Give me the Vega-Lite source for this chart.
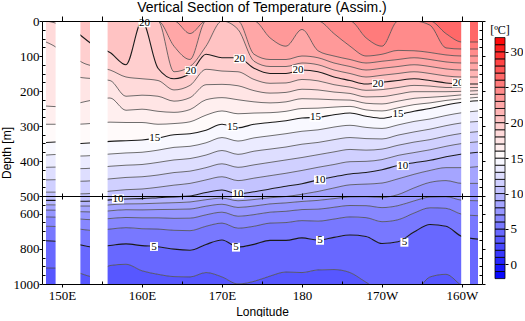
{
"$schema":"https://vega.github.io/schema/vega-lite/v6.json",
"background":"white",
"padding":{"left":0,"top":1,"right":0,"bottom":0},
"config":{"view":{"stroke":null},"legend":{"disable":true},"font":"Liberation Sans"},
"spacing":4,
"datasets":{
"iso":[
{"lon":148,"d4":909,"d5":754,"d6":672,"d7":619,"d8":580,"d9":550,"d10":525,"d11":489,"d12":454,"d13":418,"d14":383,"d15":347,"d16":295,"d17":243,"d18":60,"d19":0,"d20":0,"d21":0,"d22":0,"d23":0,"d24":0,"d25":0,"d26":0},
{"lon":150,"d4":910,"d5":760,"d6":675,"d7":621,"d8":581,"d9":551,"d10":525,"d11":489,"d12":453,"d13":417,"d14":381,"d15":345,"d16":295,"d17":245,"d18":90,"d19":15,"d20":0,"d21":0,"d22":0,"d23":0,"d24":0,"d25":0,"d26":0},
{"lon":152,"d4":935,"d5":775,"d6":687,"d7":630,"d8":589,"d9":557,"d10":530,"d11":494,"d12":458,"d13":422,"d14":386,"d15":350,"d16":295,"d17":235,"d18":160,"d19":110,"d20":35,"d21":0,"d22":0,"d23":0,"d24":0,"d25":0,"d26":0},
{"lon":154,"d4":960,"d5":790,"d6":696,"d7":635,"d8":591,"d9":557,"d10":528,"d11":492,"d12":456,"d13":420,"d14":384,"d15":348,"d16":292,"d17":225,"d18":165,"d19":130,"d20":70,"d21":0,"d22":0,"d23":0,"d24":0,"d25":0,"d26":0},
{"lon":156,"d4":895,"d5":781,"d6":688,"d7":628,"d8":584,"d9":550,"d10":522,"d11":486,"d12":451,"d13":415,"d14":380,"d15":344,"d16":289,"d17":220,"d18":170,"d19":140,"d20":90,"d21":0,"d22":0,"d23":0,"d24":0,"d25":0,"d26":0},
{"lon":158,"d4":888,"d5":772,"d6":680,"d7":622,"d8":578,"d9":545,"d10":517,"d11":482,"d12":447,"d13":412,"d14":377,"d15":342,"d16":290,"d17":255,"d18":215,"d19":160,"d20":125,"d21":0,"d22":0,"d23":0,"d24":0,"d25":0,"d26":0},
{"lon":160,"d4":925,"d5":782,"d6":686,"d7":624,"d8":579,"d9":544,"d10":515,"d11":480,"d12":445,"d13":410,"d14":375,"d15":340,"d16":290,"d17":252,"d18":212,"d19":165,"d20":0,"d21":0,"d22":0,"d23":0,"d24":0,"d25":0,"d26":0},
{"lon":162,"d4":945,"d5":788,"d6":688,"d7":624,"d8":577,"d9":541,"d10":510,"d11":475,"d12":440,"d13":404,"d14":369,"d15":334,"d16":295,"d17":258,"d18":215,"d19":170,"d20":135,"d21":0,"d22":0,"d23":0,"d24":0,"d25":0,"d26":0},
{"lon":164,"d4":958,"d5":802,"d6":695,"d7":627,"d8":576,"d9":538,"d10":505,"d11":469,"d12":433,"d13":397,"d14":361,"d15":325,"d16":293,"d17":261,"d18":229,"d19":197,"d20":165,"d21":145,"d22":72,"d23":0,"d24":0,"d25":0,"d26":0},
{"lon":166,"d4":960,"d5":808,"d6":697,"d7":626,"d8":574,"d9":534,"d10":500,"d11":464,"d12":429,"d13":393,"d14":358,"d15":322,"d16":288,"d17":253,"d18":219,"d19":184,"d20":150,"d21":130,"d22":110,"d23":36,"d24":0,"d25":0,"d26":0},
{"lon":168,"d4":935,"d5":775,"d6":672,"d7":607,"d8":558,"d9":521,"d10":490,"d11":454,"d12":419,"d13":383,"d14":348,"d15":312,"d16":269,"d17":225,"d18":182,"d19":138,"d20":95,"d21":72,"d22":0,"d23":0,"d24":0,"d25":0,"d26":0},
{"lon":170,"d4":960,"d5":750,"d6":654,"d7":592,"d8":547,"d9":512,"d10":483,"d11":445,"d12":408,"d13":370,"d14":333,"d15":295,"d16":257,"d17":219,"d18":181,"d19":143,"d20":105,"d21":0,"d22":0,"d23":0,"d24":0,"d25":0,"d26":0},
{"lon":172,"d4":1000,"d5":790,"d6":683,"d7":615,"d8":565,"d9":527,"d10":494,"d11":456,"d12":418,"d13":381,"d14":343,"d15":305,"d16":265,"d17":225,"d18":185,"d19":145,"d20":105,"d21":24,"d22":0,"d23":0,"d24":0,"d25":0,"d26":0},
{"lon":174,"d4":985,"d5":775,"d6":672,"d7":606,"d8":557,"d9":520,"d10":488,"d11":449,"d12":411,"d13":372,"d14":334,"d15":295,"d16":263,"d17":231,"d18":199,"d19":167,"d20":135,"d21":115,"d22":95,"d23":0,"d24":0,"d25":0,"d26":0},
{"lon":176,"d4":955,"d5":752,"d6":654,"d7":592,"d8":545,"d9":510,"d10":480,"d11":442,"d12":404,"d13":366,"d14":328,"d15":290,"d16":262,"d17":234,"d18":206,"d19":178,"d20":150,"d21":130,"d22":110,"d23":48,"d24":0,"d25":0,"d26":0},
{"lon":178,"d4":932,"d5":752,"d6":651,"d7":587,"d8":539,"d9":503,"d10":472,"d11":435,"d12":397,"d13":360,"d14":322,"d15":285,"d16":258,"d17":231,"d18":204,"d19":177,"d20":150,"d21":130,"d22":110,"d23":72,"d24":0,"d25":0,"d26":0},
{"lon":180,"d4":935,"d5":738,"d6":640,"d7":577,"d8":531,"d9":495,"d10":465,"d11":427,"d12":390,"d13":352,"d14":315,"d15":277,"d16":250,"d17":222,"d18":195,"d19":167,"d20":140,"d21":120,"d22":100,"d23":24,"d24":0,"d25":0,"d26":0},
{"lon":182,"d4":920,"d5":750,"d6":643,"d7":575,"d8":525,"d9":487,"d10":454,"d11":418,"d12":382,"d13":347,"d14":311,"d15":275,"d16":249,"d17":223,"d18":197,"d19":171,"d20":145,"d21":125,"d22":105,"d23":85,"d24":0,"d25":0,"d26":0},
{"lon":184,"d4":918,"d5":735,"d6":631,"d7":564,"d8":515,"d9":477,"d10":445,"d11":410,"d12":374,"d13":339,"d14":303,"d15":268,"d16":246,"d17":225,"d18":203,"d19":182,"d20":160,"d21":140,"d22":120,"d23":100,"d24":36,"d25":0,"d26":0},
{"lon":186,"d4":935,"d5":722,"d6":619,"d7":554,"d8":505,"d9":468,"d10":437,"d11":402,"d12":367,"d13":333,"d14":298,"d15":263,"d16":244,"d17":226,"d18":207,"d19":189,"d20":170,"d21":150,"d22":130,"d23":110,"d24":72,"d25":0,"d26":0},
{"lon":188,"d4":990,"d5":730,"d6":623,"d7":555,"d8":504,"d9":466,"d10":433,"d11":401,"d12":369,"d13":336,"d14":304,"d15":272,"d16":254,"d17":235,"d18":217,"d19":198,"d20":180,"d21":160,"d22":140,"d23":120,"d24":100,"d25":48,"d26":0},
{"lon":190,"d4":1040,"d5":770,"d6":646,"d7":566,"d8":508,"d9":463,"d10":425,"d11":396,"d12":366,"d13":337,"d14":307,"d15":278,"d16":257,"d17":237,"d18":216,"d19":196,"d20":175,"d21":155,"d22":135,"d23":115,"d24":95,"d25":72,"d26":0},
{"lon":192,"d4":1040,"d5":760,"d6":635,"d7":555,"d8":496,"d9":451,"d10":413,"d11":384,"d12":355,"d13":326,"d14":297,"d15":268,"d16":248,"d17":229,"d18":209,"d19":190,"d20":170,"d21":150,"d22":130,"d23":110,"d24":84,"d25":0,"d26":0},
{"lon":194,"d4":1040,"d5":705,"d6":597,"d7":528,"d8":477,"d9":438,"d10":405,"d11":376,"d12":346,"d13":317,"d14":287,"d15":258,"d16":239,"d17":221,"d18":202,"d19":184,"d20":165,"d21":145,"d22":125,"d23":105,"d24":85,"d25":0,"d26":0},
{"lon":196,"d4":960,"d5":662,"d6":567,"d7":506,"d8":461,"d9":427,"d10":398,"d11":368,"d12":339,"d13":309,"d14":280,"d15":250,"d16":234,"d17":218,"d18":202,"d19":186,"d20":170,"d21":150,"d22":130,"d23":110,"d24":90,"d25":12,"d26":0},
{"lon":198,"d4":945,"d5":672,"d6":570,"d7":504,"d8":456,"d9":419,"d10":388,"d11":358,"d12":329,"d13":299,"d14":270,"d15":240,"d16":227,"d17":215,"d18":202,"d19":190,"d20":177,"d21":157,"d22":137,"d23":117,"d24":97,"d25":77,"d26":36},
{"lon":200,"d4":1010,"d5":730,"d6":604,"d7":524,"d8":464,"d9":419,"d10":380,"d11":350,"d12":321,"d13":291,"d14":262,"d15":232,"d16":222,"d17":211,"d18":201,"d19":190,"d20":180,"d21":160,"d22":140,"d23":120,"d24":100,"d25":80,"d26":60},
{"lon":202,"d4":1040,"d5":745,"d6":612,"d7":527,"d8":464,"d9":416,"d10":375,"d11":345,"d12":316,"d13":287,"d14":257,"d15":228,"d16":218,"d17":209,"d18":199,"d19":190,"d20":180,"d21":160,"d22":140,"d23":120,"d24":100,"d25":80,"d26":60}
],
"gaps":[{"a":147.5,"b":148},{"a":149.2,"b":152.3},{"a":153.5,"b":155.7},{"a":199.9,"b":201.0},{"a":202.0,"b":202.5}],
"labels":[
{"lon":160.3,"d":5,"t":"20"},{"lon":166.1,"d":142,"t":"20"},{"lon":172.2,"d":108,"t":"20"},{"lon":179.5,"d":139,"t":"20"},{"lon":189.5,"d":180,"t":"20"},{"lon":199.5,"d":177,"t":"20"},
{"lon":161.6,"d":335,"t":"15"},{"lon":171.3,"d":302,"t":"15"},{"lon":181.7,"d":275,"t":"15"},{"lon":192.0,"d":267,"t":"15"},
{"lon":157.0,"d":516,"t":"10"},{"lon":172.0,"d":494,"t":"10"},{"lon":182.25,"d":454,"t":"10"},{"lon":192.6,"d":413,"t":"10"},
{"lon":161.5,"d":787,"t":"5"},{"lon":171.75,"d":791,"t":"5"},{"lon":182.25,"d":752,"t":"5"},{"lon":192.8,"d":763,"t":"5"}
],
"cbar":[
{"lo":-2,"hi":-1,"c":-1.5},{"lo":-1,"hi":0,"c":-0.5},{"lo":0,"hi":1,"c":0.5},{"lo":1,"hi":2,"c":1.5},{"lo":2,"hi":3,"c":2.5},{"lo":3,"hi":4,"c":3.5},{"lo":4,"hi":5,"c":4.5},{"lo":5,"hi":6,"c":5.5},{"lo":6,"hi":7,"c":6.5},{"lo":7,"hi":8,"c":7.5},{"lo":8,"hi":9,"c":8.5},{"lo":9,"hi":10,"c":9.5},{"lo":10,"hi":11,"c":10.5},{"lo":11,"hi":12,"c":11.5},{"lo":12,"hi":13,"c":12.5},{"lo":13,"hi":14,"c":13.5},{"lo":14,"hi":15,"c":14.5},{"lo":15,"hi":16,"c":15.5},{"lo":16,"hi":17,"c":16.5},{"lo":17,"hi":18,"c":17.5},{"lo":18,"hi":19,"c":18.5},{"lo":19,"hi":20,"c":19.5},{"lo":20,"hi":21,"c":20.5},{"lo":21,"hi":22,"c":21.5},{"lo":22,"hi":23,"c":22.5},{"lo":23,"hi":24,"c":23.5},{"lo":24,"hi":25,"c":24.5},{"lo":25,"hi":26,"c":25.5},{"lo":26,"hi":27,"c":26.5},{"lo":27,"hi":28,"c":27.5},{"lo":28,"hi":29,"c":28.5},{"lo":29,"hi":30,"c":29.5},{"lo":30,"hi":31,"c":30.5},{"lo":31,"hi":32,"c":31.5}
]
},
"hconcat":[
{
"width":440,"height":263,
"title":{"text":"Vertical Section of Temperature (Assim.)","font":"Liberation Sans","fontSize":14,"fontWeight":"normal","color":"black","offset":0,"anchor":"middle"},
"data":{"name":"iso"},
"resolve":{"axis":{"x":"independent","y":"independent"}},
"layer":[
{"mark":{"type":"area","interpolate":"monotone","clip":true},"encoding":{
 "x":{"field":"lon","type":"quantitative","scale":{"domain":[147.5,202.5],"nice":false,"zero":false},"axis":{"orient":"bottom","values":[150,160,170,180,190,200],"labelExpr":"datum.value < 180 ? datum.value + 'E' : (datum.value == 180 ? '180' : (360 - datum.value) + 'W')","title":"Longitude","grid":false,"domain":true,"domainColor":"black","tickSize":3,"tickColor":"black","labelFont":"Liberation Serif","labelFontSize":13,"labelColor":"black","labelPadding":2,"labelFlush":false,"labelOverlap":false,"titleFont":"Liberation Sans","titleFontSize":12,"titleFontWeight":"normal","titleColor":"black","titlePadding":4,"zindex":2}},
 "y":{"field":"d4","type":"quantitative","stack":null,"scale":{"domain":[0,500,1000],"range":[0,175,263],"nice":false,"zero":false},"axis":{"orient":"left","values":[0,100,200,300,400,500,600,800,1000],"format":"d","title":"Depth [m]","grid":false,"domain":true,"domainColor":"black","tickSize":3,"tickColor":"black","labelFont":"Liberation Serif","labelFontSize":13,"labelColor":"black","labelPadding":0,"labelFlush":false,"labelOverlap":false,"titleFont":"Liberation Sans","titleFontSize":12,"titleFontWeight":"normal","titleColor":"black","titlePadding":0,"zindex":2}},
 "y2":{"datum":1000},
 "color":{"datum":3.5,"type":"quantitative","scale":{"domain":[-2,0,5,10,15,20,25,30,32],"range":["#0000ff","#1e1eff","#7070ff","#bcbcff","#ffffff","#ffcaca","#ff8484","#ff2828","#ff0000"],"interpolate":"rgb"},"legend":null}}},
{"mark":{"type":"area","interpolate":"monotone","clip":true},"encoding":{
 "x":{"field":"lon","type":"quantitative","axis":{"orient":"bottom","values":[155,165,175,185,195],"labels":false,"title":null,"grid":false,"domain":false,"tickSize":-3,"tickColor":"black","zindex":2}},
 "y":{"field":"d5","type":"quantitative","stack":null,"axis":{"orient":"left","values":[25,50,75,125,150,175,225,250,275,325,350,375,425,450,475,550,650,700,750,850,900,950],"labels":false,"title":null,"grid":false,"domain":false,"tickSize":-3,"tickColor":"black","zindex":2}},
 "y2":{"field":"d4"},
 "color":{"datum":4.5,"type":"quantitative"}}},
{"mark":{"type":"area","interpolate":"monotone","clip":true},"encoding":{
 "x":{"field":"lon","type":"quantitative","axis":{"orient":"top","values":[150,155,160,165,170,175,180,185,190,195,200],"labels":false,"title":null,"grid":false,"domain":true,"domainColor":"black","tickSize":5,"tickColor":"black","zindex":2}},
 "y":{"field":"d6","type":"quantitative","stack":null,"axis":{"orient":"right","values":[0,100,200,300,400,500,600,800,1000],"labels":false,"title":null,"grid":false,"domain":true,"domainColor":"black","tickSize":3,"tickColor":"black","zindex":2}},
 "y2":{"field":"d5"},
 "color":{"datum":5.5,"type":"quantitative"}}},
{"mark":{"type":"area","interpolate":"monotone","clip":true},"encoding":{
 "x":{"field":"lon","type":"quantitative","axis":{"orient":"top","offset":-175,"values":[150,155,160,165,170,175,180,185,190,195,200],"labels":false,"title":null,"grid":false,"domain":false,"tickSize":3,"tickColor":"black","zindex":2}},
 "y":{"field":"d7","type":"quantitative","stack":null,"axis":{"orient":"right","values":[25,50,75,125,150,175,225,250,275,325,350,375,425,450,475,550,650,700,750,850,900,950],"labels":false,"title":null,"grid":false,"domain":false,"tickSize":-3,"tickColor":"black","zindex":2}},
 "y2":{"field":"d6"},
 "color":{"datum":6.5,"type":"quantitative"}}},
{"mark":{"type":"area","interpolate":"monotone","clip":true},"encoding":{
 "x":{"field":"lon","type":"quantitative","axis":{"orient":"bottom","offset":-88,"values":[150,155,160,165,170,175,180,185,190,195,200],"labels":false,"title":null,"grid":false,"domain":true,"domainColor":"black","tickSize":3,"tickColor":"black","zindex":2}},
 "y":{"field":"d8","type":"quantitative","stack":null,"axis":null},
 "y2":{"field":"d7"},
 "color":{"datum":7.5,"type":"quantitative"}}},
{"mark":{"type":"area","interpolate":"monotone","clip":true},"encoding":{"x":{"field":"lon","type":"quantitative","axis":null},"y":{"field":"d9","type":"quantitative","stack":null,"axis":null},"y2":{"field":"d8"},"color":{"datum":8.5,"type":"quantitative"}}},
{"mark":{"type":"area","interpolate":"monotone","clip":true},"encoding":{"x":{"field":"lon","type":"quantitative","axis":null},"y":{"field":"d10","type":"quantitative","stack":null,"axis":null},"y2":{"field":"d9"},"color":{"datum":9.5,"type":"quantitative"}}},
{"mark":{"type":"area","interpolate":"monotone","clip":true},"encoding":{"x":{"field":"lon","type":"quantitative","axis":null},"y":{"field":"d11","type":"quantitative","stack":null,"axis":null},"y2":{"field":"d10"},"color":{"datum":10.5,"type":"quantitative"}}},
{"mark":{"type":"area","interpolate":"monotone","clip":true},"encoding":{"x":{"field":"lon","type":"quantitative","axis":null},"y":{"field":"d12","type":"quantitative","stack":null,"axis":null},"y2":{"field":"d11"},"color":{"datum":11.5,"type":"quantitative"}}},
{"mark":{"type":"area","interpolate":"monotone","clip":true},"encoding":{"x":{"field":"lon","type":"quantitative","axis":null},"y":{"field":"d13","type":"quantitative","stack":null,"axis":null},"y2":{"field":"d12"},"color":{"datum":12.5,"type":"quantitative"}}},
{"mark":{"type":"area","interpolate":"monotone","clip":true},"encoding":{"x":{"field":"lon","type":"quantitative","axis":null},"y":{"field":"d14","type":"quantitative","stack":null,"axis":null},"y2":{"field":"d13"},"color":{"datum":13.5,"type":"quantitative"}}},
{"mark":{"type":"area","interpolate":"monotone","clip":true},"encoding":{"x":{"field":"lon","type":"quantitative","axis":null},"y":{"field":"d15","type":"quantitative","stack":null,"axis":null},"y2":{"field":"d14"},"color":{"datum":14.5,"type":"quantitative"}}},
{"mark":{"type":"area","interpolate":"monotone","clip":true},"encoding":{"x":{"field":"lon","type":"quantitative","axis":null},"y":{"field":"d16","type":"quantitative","stack":null,"axis":null},"y2":{"field":"d15"},"color":{"datum":15.5,"type":"quantitative"}}},
{"mark":{"type":"area","interpolate":"monotone","clip":true},"encoding":{"x":{"field":"lon","type":"quantitative","axis":null},"y":{"field":"d17","type":"quantitative","stack":null,"axis":null},"y2":{"field":"d16"},"color":{"datum":16.5,"type":"quantitative"}}},
{"mark":{"type":"area","interpolate":"monotone","clip":true},"encoding":{"x":{"field":"lon","type":"quantitative","axis":null},"y":{"field":"d18","type":"quantitative","stack":null,"axis":null},"y2":{"field":"d17"},"color":{"datum":17.5,"type":"quantitative"}}},
{"mark":{"type":"area","interpolate":"monotone","clip":true},"encoding":{"x":{"field":"lon","type":"quantitative","axis":null},"y":{"field":"d19","type":"quantitative","stack":null,"axis":null},"y2":{"field":"d18"},"color":{"datum":18.5,"type":"quantitative"}}},
{"mark":{"type":"area","interpolate":"monotone","clip":true},"encoding":{"x":{"field":"lon","type":"quantitative","axis":null},"y":{"field":"d20","type":"quantitative","stack":null,"axis":null},"y2":{"field":"d19"},"color":{"datum":19.5,"type":"quantitative"}}},
{"mark":{"type":"area","interpolate":"monotone","clip":true},"encoding":{"x":{"field":"lon","type":"quantitative","axis":null},"y":{"field":"d21","type":"quantitative","stack":null,"axis":null},"y2":{"field":"d20"},"color":{"datum":20.5,"type":"quantitative"}}},
{"mark":{"type":"area","interpolate":"monotone","clip":true},"encoding":{"x":{"field":"lon","type":"quantitative","axis":null},"y":{"field":"d22","type":"quantitative","stack":null,"axis":null},"y2":{"field":"d21"},"color":{"datum":21.5,"type":"quantitative"}}},
{"mark":{"type":"area","interpolate":"monotone","clip":true},"encoding":{"x":{"field":"lon","type":"quantitative","axis":null},"y":{"field":"d23","type":"quantitative","stack":null,"axis":null},"y2":{"field":"d22"},"color":{"datum":22.5,"type":"quantitative"}}},
{"mark":{"type":"area","interpolate":"monotone","clip":true},"encoding":{"x":{"field":"lon","type":"quantitative","axis":null},"y":{"field":"d24","type":"quantitative","stack":null,"axis":null},"y2":{"field":"d23"},"color":{"datum":23.5,"type":"quantitative"}}},
{"mark":{"type":"area","interpolate":"monotone","clip":true},"encoding":{"x":{"field":"lon","type":"quantitative","axis":null},"y":{"field":"d25","type":"quantitative","stack":null,"axis":null},"y2":{"field":"d24"},"color":{"datum":24.5,"type":"quantitative"}}},
{"mark":{"type":"area","interpolate":"monotone","clip":true},"encoding":{"x":{"field":"lon","type":"quantitative","axis":null},"y":{"field":"d26","type":"quantitative","stack":null,"axis":null},"y2":{"field":"d25"},"color":{"datum":25.5,"type":"quantitative"}}},
{"mark":{"type":"area","interpolate":"monotone","clip":true},"encoding":{"x":{"field":"lon","type":"quantitative","axis":null},"y":{"field":"d26","type":"quantitative","stack":null,"axis":null},"y2":{"datum":0},"color":{"datum":26.5,"type":"quantitative"}}},
{"transform":[{"fold":["d4","d6","d7","d8","d9","d11","d12","d13","d14","d16","d17","d18","d19","d21","d22","d23","d24","d25","d26"],"as":["k","v"]}],
 "mark":{"type":"line","interpolate":"monotone","clip":true,"color":"#4a4a4a","strokeWidth":0.8},
 "encoding":{"x":{"field":"lon","type":"quantitative","axis":null},"y":{"field":"v","type":"quantitative","axis":null},"detail":{"field":"k"}}},
{"transform":[{"fold":["d5","d10","d15","d20"],"as":["k","v"]}],
 "mark":{"type":"line","interpolate":"monotone","clip":true,"color":"#1a1a1a","strokeWidth":1.1},
 "encoding":{"x":{"field":"lon","type":"quantitative","axis":null},"y":{"field":"v","type":"quantitative","axis":null},"detail":{"field":"k"}}},
{"data":{"name":"labels"},"transform":[{"filter":"length(datum.t) > 1"}],
 "mark":{"type":"point","shape":"M-1,-0.75H1V0.75H-1Z","filled":true,"color":"white","opacity":1,"size":144,"strokeWidth":0},
 "encoding":{"x":{"field":"lon","type":"quantitative","axis":null},"y":{"field":"d","type":"quantitative","axis":null}}},
{"data":{"name":"labels"},"transform":[{"filter":"length(datum.t) == 1"}],
 "mark":{"type":"point","shape":"M-1,-1.1H1V1.1H-1Z","filled":true,"color":"white","opacity":1,"size":64,"strokeWidth":0},
 "encoding":{"x":{"field":"lon","type":"quantitative","axis":null},"y":{"field":"d","type":"quantitative","axis":null}}},
{"data":{"name":"labels"},
 "mark":{"type":"text","font":"Liberation Serif","fontSize":11,"color":"black","baseline":"middle","align":"center"},
 "encoding":{"x":{"field":"lon","type":"quantitative","axis":null},"y":{"field":"d","type":"quantitative","axis":null},"text":{"field":"t"}}},
{"data":{"name":"gaps"},
 "mark":{"type":"rect","color":"white"},
 "encoding":{"x":{"field":"a","type":"quantitative","axis":null},"x2":{"field":"b"}}}
]
},
{
"width":10,"height":263,
"layer":[
{"data":{"name":"cbar"},
 "mark":{"type":"rect","stroke":"black","strokeWidth":0.8},
 "encoding":{
  "y":{"field":"lo","type":"quantitative","scale":{"domain":[-2.76,34.34],"nice":false,"zero":false},"axis":{"orient":"right","values":[0,5,10,15,20,25,30],"title":null,"grid":false,"domain":false,"tickSize":3,"tickColor":"black","labelFont":"Liberation Serif","labelFontSize":13,"labelColor":"black","labelPadding":2,"labelFlush":false}},
  "y2":{"field":"hi"},
  "color":{"field":"c","type":"quantitative","scale":{"domain":[-2,0,5,10,15,20,25,30,32],"range":["#0000ff","#1e1eff","#7070ff","#bcbcff","#ffffff","#ffcaca","#ff8484","#ff2828","#ff0000"],"interpolate":"rgb"},"legend":null}}},
{"data":{"values":[{"u":"[ºC]"}]},
 "mark":{"type":"text","font":"Liberation Serif","fontSize":12,"color":"black","baseline":"middle"},
 "encoding":{"text":{"field":"u"},"y":{"datum":33.0}}}
]
}
]
}
